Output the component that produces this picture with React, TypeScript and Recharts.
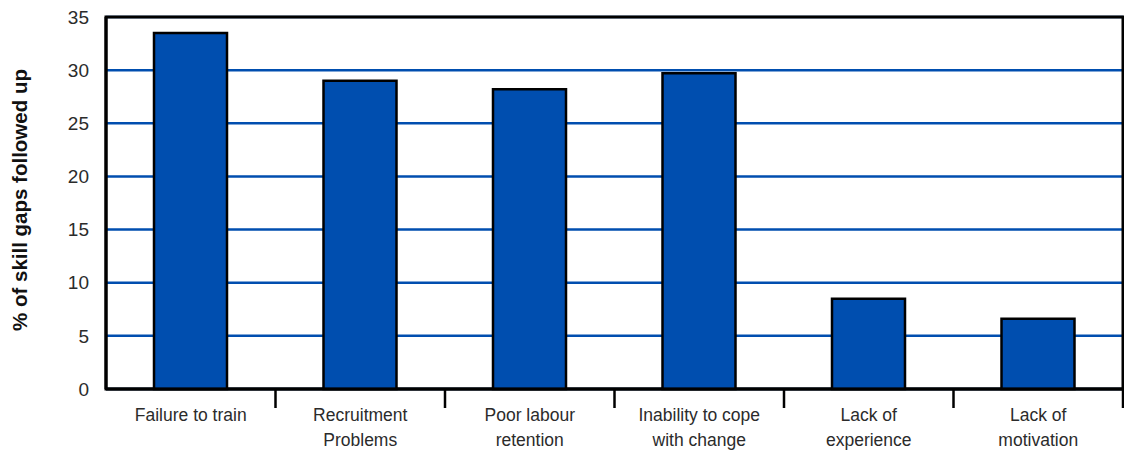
import { Bar, BarChart, CartesianGrid, Label, ReferenceArea, XAxis, YAxis } from "recharts"

const categories = [
  "Failure to train",
  "Recruitment\nProblems",
  "Poor labour\nretention",
  "Inability to cope\nwith change",
  "Lack of\nexperience",
  "Lack of\nmotivation",
]
const followedUp = [33.5, 29.0, 28.2, 29.7, 8.5, 6.6]
const yTicks = [0, 5, 10, 15, 20, 25, 30, 35]

const data = categories.map((name, i) => ({ name, value: followedUp[i] }))

const W = 1124
const H = 452
const AXIS_W = 106
const RIGHT = 1
const BAND = (W - AXIS_W - RIGHT) / categories.length
const BLUE = "#004eaf"
const FONT = '"Liberation Sans", Arial, sans-serif'

function CategoryTick({ x, y, payload }: any) {
  const lines = String(payload.value).split("\n")
  return (
    <g>
      <line x1={x + BAND / 2} x2={x + BAND / 2} y1={y} y2={y + 19} stroke="#000" strokeWidth={2.5} />
      <text x={x} y={y} textAnchor="middle" fill="#2b2b2b" fontSize={17.5} fontFamily={FONT}>
        {lines.map((line, i) => (
          <tspan key={i} x={x} dy={i === 0 ? 32 : 25}>
            {line}
          </tspan>
        ))}
      </text>
    </g>
  )
}

export default function App() {
  return (
    <div style={{ position: "absolute", left: 0, top: 0, background: "#fff" }}>
      <BarChart
        width={W}
        height={H}
        data={data}
        margin={{ top: 17, right: RIGHT, bottom: 0, left: 0 }}
        barSize={73}
      >
        <CartesianGrid vertical={false} stroke={BLUE} strokeWidth={2.5} />
        <XAxis
          dataKey="name"
          height={63}
          tickSize={0}
          tickMargin={0}
          axisLine={{ stroke: "#000", strokeWidth: 3 }}
          tick={<CategoryTick />}
          interval={0}
        />
        <YAxis
          width={AXIS_W}
          domain={[0, 35]}
          ticks={yTicks}
          tickSize={0}
          tickMargin={17}
          axisLine={{ stroke: "#000", strokeWidth: 3 }}
          tick={{ fill: "#2b2b2b", fontSize: 19, fontFamily: FONT }}
        >
          <Label
            content={({ viewBox }: any) => {
              const cy = viewBox.y + viewBox.height / 2 - 3
              return (
                <text
                  x={27}
                  y={cy}
                  transform={`rotate(-90 27 ${cy})`}
                  textAnchor="middle"
                  fontSize={20.5}
                  fontWeight="bold"
                  fontFamily={FONT}
                  fill="#111"
                >
                  % of skill gaps followed up
                </text>
              )
            }}
          />
        </YAxis>
        <Bar dataKey="value" fill={BLUE} stroke="#000" strokeWidth={2.5} isAnimationActive={false} />
        <ReferenceArea y1={0} y2={35} fill="none" stroke="#000" strokeWidth={3} ifOverflow="visible" />
      </BarChart>
    </div>
  )
}
